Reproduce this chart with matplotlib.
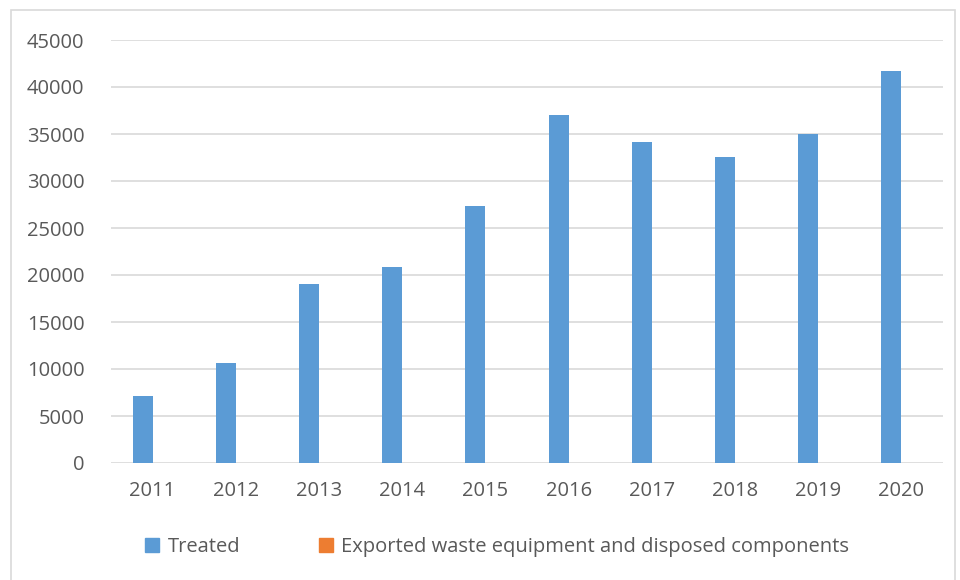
import matplotlib.pyplot as plt
import numpy as np
from matplotlib.patches import Patch, Rectangle

years = ['2011', '2012', '2013', '2014', '2015', '2016', '2017', '2018', '2019', '2020']
treated = [7100, 10600, 19000, 20900, 27300, 37000, 34200, 32600, 35000, 41700]
exported = [0, 0, 0, 0, 0, 0, 0, 0, 0, 0]

blue = '#5b9bd5'
orange = '#ed7d31'
txt = '#595959'

plt.rcParams['font.family'] = ['Open Sans', 'DejaVu Sans']

fig = plt.figure(figsize=(9.6, 5.8), dpi=100)
ax = fig.add_axes([111 / 960, 1 - 463 / 580, 832 / 960, 423 / 580])

x = np.arange(len(years))
w = 0.24
ax.bar(x - w / 2, treated, w, color=blue, zorder=3)
ax.bar(x + w / 2, exported, w, color=orange, zorder=3)

ax.set_xlim(-0.5, len(years) - 0.5)
ax.set_ylim(0, 45000)
ax.set_yticks(range(0, 45001, 5000))
ax.set_xticks(x)
ax.set_xticklabels(years)
ax.tick_params(axis='both', length=0, labelsize=14.5, labelcolor=txt)
ax.tick_params(axis='y', pad=19)
ax.tick_params(axis='x', pad=13)
ax.grid(axis='y', color='#d9d9d9', linewidth=1.2, zorder=0)
for s in ax.spines.values():
    s.set_visible(False)

handles = [Patch(color=blue, label='Treated'),
           Patch(color=orange, label='Exported waste equipment and disposed components')]
fig.legend(handles=handles, loc='center', bbox_to_anchor=(497 / 960, 1 - 547 / 580),
           ncol=2, frameon=False, fontsize=14.5, labelcolor=txt,
           handlelength=0.7, handleheight=0.7, handletextpad=0.4, columnspacing=3.9)

fig.patches.append(Rectangle((11 / 960, -0.05), 944 / 960, 1.05 - 10 / 580,
                             transform=fig.transFigure, fill=False,
                             edgecolor='#d9d9d9', linewidth=1.2))

fig.savefig('out.png', dpi=100, facecolor='white')
